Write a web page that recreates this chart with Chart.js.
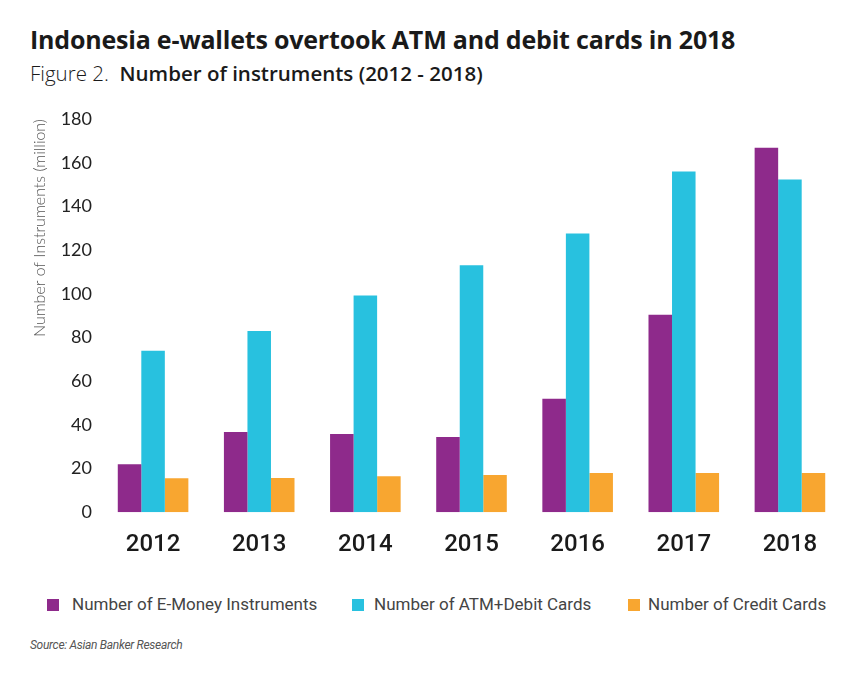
<!DOCTYPE html>
<html>
<head>
<meta charset="utf-8">
<script src="https://cdn.jsdelivr.net/npm/chart.js@4"></script>
<style>
  body { margin: 0; background: #fff; width: 848px; height: 674px; position: relative; overflow: hidden; }
  #title { position: absolute; left: 30px; top: 22px; font: bold 25px "Open Sans", sans-serif; color: #1a1a1a; letter-spacing: -0.2px; }
  #subtitle { position: absolute; left: 30px; top: 59px; font: 20.5px "Open Sans", sans-serif; color: #1a1a1a; }
  #subtitle b { font-weight: 600; }
  #wrap { position: absolute; left: 0; top: 100px; width: 848px; height: 469px; }
  #legend { position: absolute; top: 594px; left: 0; width: 848px; font: 17px Roboto, sans-serif; color: #444; }
  .item { position: absolute; top: 0; white-space: nowrap; }
  #source { position: absolute; left: 30px; top: 638px; font: italic 12px Roboto, sans-serif; color: #555; letter-spacing: -0.3px; }
</style>
</head>
<body>
<div id="title">Indonesia e-wallets overtook ATM and debit cards in 2018</div>
<div id="subtitle"><span style="font-weight:300">Figure 2.</span>&nbsp; <b>Number of instruments (2012 - 2018)</b></div>
<div id="wrap"><canvas id="chart"></canvas></div>
<div id="legend"></div>
<div id="source">Source: Asian Banker Research</div>
<script>
// values in million
const years = ['2012', '2013', '2014', '2015', '2016', '2017', '2018'];
const eMoney = [22, 36.7, 35.8, 34.4, 51.9, 90.4, 166.8];
const atmDebit = [73.9, 83, 99.2, 113, 127.6, 156, 152.3];
const creditCards = [15.5, 15.6, 16.5, 17, 17.9, 17.9, 17.9];

const seriesNames = ['Number of E-Money Instruments', 'Number of ATM+Debit Cards', 'Number of Credit Cards'];
const seriesColors = ['#8e2a8b', '#28c1df', '#f8a630'];
const seriesData = [eMoney, atmDebit, creditCards];

const ctx = document.getElementById('chart').getContext('2d');

new Chart(ctx, {
    type: 'bar',
    data: {
        labels: years,
        datasets: seriesData.map((d, i) => ({
            label: seriesNames[i],
            data: d,
            backgroundColor: seriesColors[i],
            borderWidth: 0,
            categoryPercentage: 0.665,
            barPercentage: 1.0
        }))
    },
    options: {
        responsive: true,
        maintainAspectRatio: false,
        animation: false,
        layout: { padding: { left: 30, right: 5, top: 19, bottom: 0 } },
        scales: {
            x: {
                grid: { display: false },
                border: { display: false },
                ticks: {
                    color: '#1a1a1a',
                    padding: 10,
                    font: { family: 'Roboto, sans-serif', size: 24, weight: 500 }
                }
            },
            y: {
                min: 0,
                max: 180,
                grid: { display: false },
                border: { display: false },
                afterFit: (scale) => { scale.width = 70; },
                ticks: {
                    stepSize: 20,
                    color: '#222',
                    padding: 0,
                    font: { family: 'Lato, sans-serif', size: 18 }
                },
                title: {
                    display: true,
                    text: 'Number of Instruments (million)',
                    align: 'end',
                    color: '#555',
                    padding: 0,
                    font: { family: 'Lato, sans-serif', size: 16, weight: 300 }
                }
            }
        },
        plugins: {
            legend: { display: false },
            tooltip: { enabled: false }
        }
    }
});

// legend built from the same series arrays
const boxX = [47, 352, 628];
const textX = [72, 374, 648];
const legend = document.getElementById('legend');
seriesNames.forEach((name, i) => {
    const box = document.createElement('div');
    box.className = 'item';
    box.style.left = boxX[i] + 'px';
    box.style.top = '5px';
    box.style.width = '12px';
    box.style.height = '12px';
    box.style.background = seriesColors[i];
    legend.appendChild(box);
    const label = document.createElement('div');
    label.className = 'item';
    label.style.left = textX[i] + 'px';
    label.textContent = name;
    legend.appendChild(label);
});
</script>
</body>
</html>
